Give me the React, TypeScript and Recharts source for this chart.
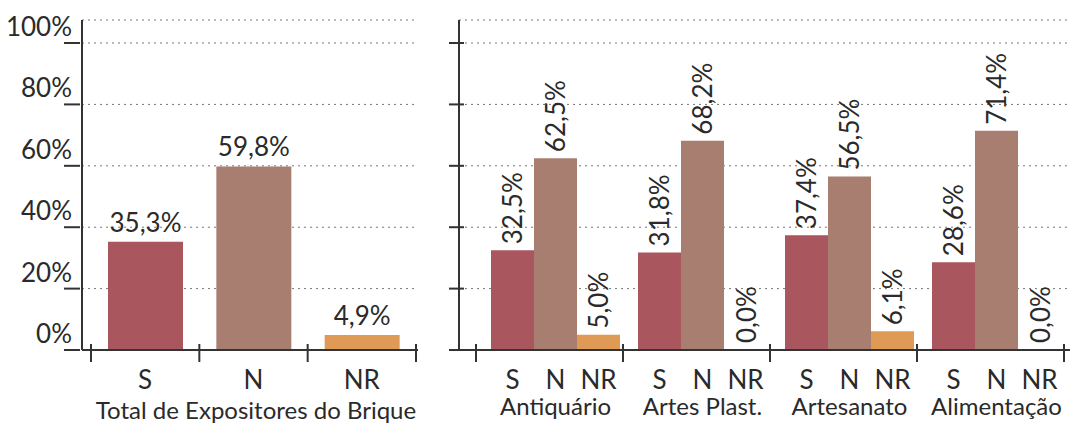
import { BarChart, Bar, XAxis, YAxis, CartesianGrid, LabelList, Label, Cell } from 'recharts'

// Total de Expositores do Brique
const totalCategories = ['S', 'N', 'NR']
const totalValues = [35.3, 59.8, 4.9]

// by sector
const sectors = ['Antiquário', 'Artes Plast.', 'Artesanato', 'Alimentação']
const seriesKeys = ['S', 'N', 'NR']
const sValues = [32.5, 31.8, 37.4, 28.6]
const nValues = [62.5, 68.2, 56.5, 71.4]
const nrValues = [5.0, 0.0, 6.1, 0.0]

const yTicks = [0, 20, 40, 60, 80, 100]

const COLORS = ['#A9565E', '#A87E71', '#DF9A55']
const FONT = 'Lato, "Open Sans", sans-serif'
const TEXT = '#2a2a2a'
const AXIS = '#333333'

const fmt = (v: any) => `${Number(v).toFixed(1).replace('.', ',')}%`

const totalData = totalCategories.map((c, i) => ({ name: c, value: totalValues[i] }))
const sectorData = sectors.map((s, i) => ({ name: s, S: sValues[i], N: nValues[i], NR: nrValues[i] }))

// layout (px)
const H = 423
const LEFT_W = 440
const LEFT_AXIS = 82
const LEFT_PAD = 9
const LEFT_RIGHT = 418
const LEFT_BAND = (LEFT_RIGHT - LEFT_AXIS - LEFT_PAD - 2) / 3

const RIGHT_W = 630
const RIGHT_AXIS = 19
const RIGHT_PAD = 23
const RIGHT_END = 630
const RIGHT_BAND = (RIGHT_END - RIGHT_AXIS - RIGHT_PAD) / 4
const RIGHT_BAR = 43
// the group separators sit a little left of the band edges in the original
const SEP_SHIFT = 6

const LeftYTick = ({ x, y, payload }: any) => (
  <g>
    <line x1={x - 16} x2={x} y1={y} y2={y} stroke={AXIS} strokeWidth={2} />
    <text x={x - 8} y={y - 7} textAnchor="end" fill={TEXT} fontSize={26} fontFamily={FONT}>
      {payload.value}%
    </text>
  </g>
)

const RightYTick = ({ x, y }: any) => (
  <line x1={x - 8} x2={x + 7} y1={y} y2={y} stroke={AXIS} strokeWidth={2} />
)

const LeftXTick = ({ x, y, payload, index }: any) => (
  <g>
    <line x1={x - LEFT_BAND / 2} x2={x - LEFT_BAND / 2} y1={y - 8} y2={y + 10} stroke={AXIS} strokeWidth={2} />
    {index === totalCategories.length - 1 && (
      <line x1={x + LEFT_BAND / 2} x2={x + LEFT_BAND / 2} y1={y - 8} y2={y + 10} stroke={AXIS} strokeWidth={2} />
    )}
    <text x={x} y={y + 37} textAnchor="middle" fill={TEXT} fontSize={26} fontFamily={FONT}>
      {payload.value}
    </text>
  </g>
)

const RightXTick = ({ x, y, payload, index }: any) => {
  const left = x - RIGHT_BAND / 2 - SEP_SHIFT
  const right = x + RIGHT_BAND / 2 - SEP_SHIFT
  return (
    <g>
      <line x1={left} x2={left} y1={y - 8} y2={y + 10} stroke={AXIS} strokeWidth={2} />
      {index === sectors.length - 1 && (
        <line x1={right} x2={right} y1={y - 8} y2={y + 10} stroke={AXIS} strokeWidth={2} />
      )}
      {seriesKeys.map((k, i) => (
        <text key={k} x={x + (i - 1) * RIGHT_BAR} y={y + 37} textAnchor="middle" fill={TEXT} fontSize={26} fontFamily={FONT}>
          {k}
        </text>
      ))}
      <text x={x} y={y + 63} textAnchor="middle" fill={TEXT} fontSize={24} fontFamily={FONT}>
        {payload.value}
      </text>
    </g>
  )
}

const RotatedLabel = ({ x, y, width, value }: any) => {
  const cx = x + (width || RIGHT_BAR) / 2
  const cy = y - 6
  return (
    <text
      x={cx}
      y={cy}
      transform={`rotate(-90 ${cx} ${cy})`}
      textAnchor="start"
      dominantBaseline="central"
      fill={TEXT}
      fontSize={26}
      fontFamily={FONT}
    >
      {fmt(value)}
    </text>
  )
}

// zero values still need their label, so give them a 1px bar hidden under the axis line
const zeroMin = (v: any) => (Number(v) === 0 ? 1 : 0)

export default function App() {
  return (
    <div style={{ position: 'absolute', left: 0, top: 0, width: 1070, height: H, background: '#fff', display: 'flex' }}>
      <BarChart width={LEFT_W} height={H} data={totalData} margin={{ top: 20, right: LEFT_W - LEFT_RIGHT, bottom: 0, left: 0 }}>
        <CartesianGrid vertical={false} stroke="#777" strokeDasharray="2 4" />
        <XAxis
          dataKey="name"
          height={73}
          axisLine={{ stroke: AXIS, strokeWidth: 2 }}
          tickLine={false}
          tickSize={0}
          tick={<LeftXTick />}
          padding={{ left: LEFT_PAD, right: 2 }}
          interval={0}
        >
          <Label value="Total de Expositores do Brique" position="insideBottom" offset={4} dx={6} fill={TEXT} fontSize={24} fontFamily={FONT} />
        </XAxis>
        <YAxis
          width={LEFT_AXIS}
          domain={[0, 107.5]}
          ticks={yTicks}
          axisLine={{ stroke: AXIS, strokeWidth: 2 }}
          tickLine={false}
          tickSize={0}
          tick={<LeftYTick />}
        />
        <Bar dataKey="value" barSize={75} isAnimationActive={false}>
          {totalData.map((d, i) => (
            <Cell key={d.name} fill={COLORS[i]} />
          ))}
          <LabelList dataKey="value" position="top" offset={10} formatter={fmt} fill={TEXT} fontSize={26} fontFamily={FONT} />
        </Bar>
      </BarChart>
      <BarChart
        width={RIGHT_W}
        height={H}
        data={sectorData}
        barGap={0}
        margin={{ top: 20, right: RIGHT_W - RIGHT_END, bottom: 0, left: 0 }}
      >
        <CartesianGrid vertical={false} stroke="#777" strokeDasharray="2 4" />
        <XAxis
          dataKey="name"
          height={73}
          axisLine={{ stroke: AXIS, strokeWidth: 2 }}
          tickLine={false}
          tickSize={0}
          tick={<RightXTick />}
          padding={{ left: RIGHT_PAD, right: 0 }}
          interval={0}
        />
        <YAxis
          width={RIGHT_AXIS}
          domain={[0, 107.5]}
          ticks={yTicks}
          axisLine={{ stroke: AXIS, strokeWidth: 2 }}
          tickLine={false}
          tickSize={0}
          tick={<RightYTick />}
        />
        {seriesKeys.map((k, i) => (
          <Bar key={k} dataKey={k} fill={COLORS[i]} barSize={RIGHT_BAR} minPointSize={zeroMin} isAnimationActive={false}>
            <LabelList dataKey={k} content={<RotatedLabel />} />
          </Bar>
        ))}
      </BarChart>
    </div>
  )
}
